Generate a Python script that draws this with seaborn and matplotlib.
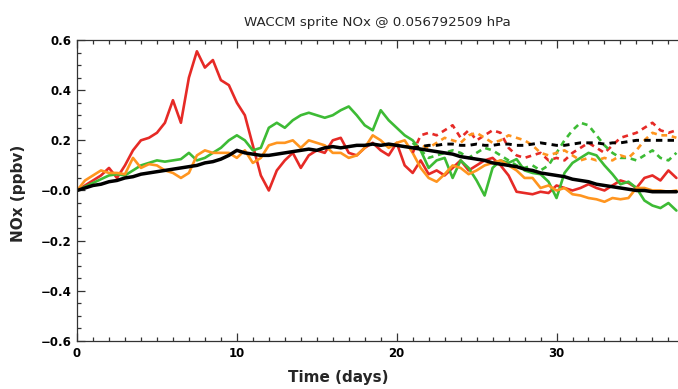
import numpy as np
import matplotlib
matplotlib.use('Agg')
import matplotlib.pyplot as plt
from matplotlib.ticker import MultipleLocator, FixedLocator, FixedFormatter
import seaborn as sns

# time axis (days), half-day steps
days = np.arange(0, 38, 0.5)
days_dash = days[42:]          # dashed runs start at day 21

red = [0.0, 0.02, 0.04, 0.06, 0.09, 0.05, 0.1, 0.16, 0.2, 0.21,
       0.23, 0.27, 0.36, 0.27, 0.45, 0.555, 0.49, 0.52, 0.44, 0.42,
       0.35, 0.30, 0.18, 0.06, 0.0, 0.08, 0.12, 0.15, 0.09, 0.14,
       0.16, 0.15, 0.2, 0.21, 0.15, 0.14, 0.17, 0.19, 0.16, 0.14,
       0.19, 0.1, 0.07, 0.12, 0.065, 0.08, 0.06, 0.09, 0.12, 0.08,
       0.1, 0.12, 0.13, 0.1, 0.06, -0.005, -0.01, -0.015, -0.005, -0.01,
       0.02, 0.01, 0.0, 0.01, 0.025, 0.01, 0.0, 0.02, 0.04, 0.03,
       0.01, 0.05, 0.06, 0.04, 0.08, 0.05]
green = [0.0, 0.015, 0.03, 0.045, 0.06, 0.065, 0.06, 0.08, 0.1, 0.11,
         0.12, 0.115, 0.12, 0.125, 0.15, 0.12, 0.13, 0.15, 0.17, 0.2,
         0.22, 0.2, 0.16, 0.17, 0.25, 0.27, 0.25, 0.28, 0.3, 0.31,
         0.3, 0.29, 0.3, 0.32, 0.335, 0.3, 0.26, 0.24, 0.32, 0.28,
         0.25, 0.22, 0.2, 0.16, 0.09, 0.12, 0.13, 0.05, 0.12, 0.09,
         0.04, -0.02, 0.09, 0.12, 0.11, 0.125, 0.08, 0.07, 0.065, 0.035,
         -0.03, 0.07, 0.11, 0.13, 0.15, 0.14, 0.1, 0.065, 0.025, 0.035,
         0.01, -0.04, -0.06, -0.07, -0.05, -0.08]
orange = [0.0, 0.04, 0.06, 0.08, 0.07, 0.07, 0.065, 0.13, 0.09, 0.105,
          0.1, 0.08, 0.07, 0.05, 0.07, 0.14, 0.16, 0.15, 0.15, 0.15,
          0.13, 0.16, 0.11, 0.13, 0.18, 0.19, 0.19, 0.2, 0.17, 0.2,
          0.19, 0.18, 0.15, 0.15, 0.13, 0.14, 0.17, 0.22, 0.2, 0.17,
          0.19, 0.2, 0.15, 0.09, 0.05, 0.035, 0.065, 0.1, 0.09, 0.065,
          0.08, 0.1, 0.11, 0.12, 0.1, 0.08, 0.05, 0.05, 0.01, 0.02,
          0.0, 0.01, -0.015, -0.02, -0.03, -0.035, -0.045, -0.03, -0.035, -0.03,
          0.01, 0.01, 0.0, 0.0, -0.005, 0.0]
black = [0.0, 0.01, 0.02, 0.025, 0.035, 0.04, 0.05, 0.055, 0.065, 0.07,
         0.075, 0.08, 0.085, 0.09, 0.095, 0.1, 0.11, 0.115, 0.125, 0.14,
         0.16, 0.15, 0.145, 0.14, 0.14, 0.145, 0.15, 0.155, 0.16, 0.165,
         0.16, 0.17, 0.175, 0.17, 0.175, 0.18, 0.18, 0.185, 0.18, 0.185,
         0.18, 0.175, 0.17, 0.165, 0.16, 0.155, 0.15, 0.145, 0.135, 0.13,
         0.125, 0.12, 0.11, 0.105, 0.1, 0.095, 0.085, 0.08, 0.07, 0.065,
         0.06, 0.055, 0.045, 0.04, 0.035, 0.025, 0.02, 0.015, 0.01, 0.005,
         0.0, 0.0, -0.005, -0.005, -0.005, -0.005]

red_dash = [0.15, 0.22, 0.23, 0.22, 0.24, 0.26, 0.21, 0.24, 0.2, 0.22,
            0.24, 0.23, 0.17, 0.14, 0.13, 0.14, 0.15, 0.12, 0.13, 0.12,
            0.15, 0.17, 0.19, 0.17, 0.15, 0.18, 0.21, 0.22, 0.23, 0.25,
            0.27, 0.24, 0.23, 0.24]
green_dash = [0.19, 0.16, 0.13, 0.14, 0.15, 0.16, 0.15, 0.13, 0.15, 0.17,
              0.16, 0.14, 0.12, 0.1, 0.09, 0.1, 0.08, 0.1, 0.15, 0.2,
              0.24, 0.27, 0.26, 0.22, 0.18, 0.15, 0.13, 0.13, 0.12, 0.14,
              0.16, 0.13, 0.12, 0.15]
orange_dash = [0.17, 0.18, 0.17, 0.19, 0.21, 0.2, 0.19, 0.22, 0.23, 0.21,
               0.19, 0.2, 0.22, 0.21, 0.2, 0.18, 0.15, 0.14, 0.15, 0.16,
               0.14, 0.12, 0.13, 0.12, 0.13, 0.12, 0.14, 0.13, 0.16, 0.2,
               0.23, 0.22, 0.22, 0.21]
black_dash = [0.17, 0.175, 0.18, 0.18, 0.185, 0.185, 0.18, 0.18, 0.185, 0.18,
              0.18, 0.185, 0.185, 0.18, 0.18, 0.185, 0.19, 0.185, 0.18, 0.18,
              0.185, 0.19, 0.19, 0.19, 0.185, 0.19, 0.19, 0.195, 0.2, 0.2,
              0.2, 0.2, 0.2, 0.2]

yticks = [-0.6, -0.4, -0.2, 0.0, 0.2, 0.4, 0.6]
ytick_labels = ['\u22120.6', '\u22120.4', '\u22120.2', '\u22120.0', '0.2', '0.4', '0.6']
xticks = [0, 10, 20, 30]

c_red, c_green, c_orange = '#e62a26', '#3dbb35', '#ff951f'

sns.set_style('ticks')
plt.rcParams['font.family'] = ['DejaVu Sans']

fig = plt.figure(figsize=(6.78, 3.89), dpi=100)
ax = fig.add_axes([0.1136, 0.1234, 0.8864, 0.7738])

lw = 1.9
for y, c in ((red, c_red), (green, c_green), (orange, c_orange)):
    sns.lineplot(x=days, y=y, color=c, lw=lw, ax=ax)
for y, c in ((red_dash, c_red), (green_dash, c_green), (orange_dash, c_orange)):
    sns.lineplot(x=days_dash, y=y, color=c, lw=lw, ax=ax)
    ax.lines[-1].set_dashes((2.2, 1.8))
sns.lineplot(x=days_dash, y=black_dash, color='black', lw=2.1, ax=ax)
ax.lines[-1].set_dashes((2.2, 1.8))
sns.lineplot(x=days, y=black, color='black', lw=2.5, ax=ax)

ax.set_xlim(0, 37.6)
ax.set_ylim(-0.6, 0.6)
ax.set_xticks(xticks)
ax.xaxis.set_minor_locator(MultipleLocator(1))
ax.yaxis.set_major_locator(FixedLocator(yticks))
ax.yaxis.set_major_formatter(FixedFormatter(ytick_labels))
ax.yaxis.set_minor_locator(MultipleLocator(0.05))

ax.tick_params(which='both', direction='in', top=True, right=False,
               colors='#333333', labelcolor='black', width=0.9)
ax.tick_params(which='major', length=6, labelsize=8.5, pad=4)
ax.tick_params(which='minor', length=3)
for lab in ax.get_xticklabels() + ax.get_yticklabels():
    lab.set_fontweight('bold')

ax.spines['right'].set_visible(False)
for s in ('left', 'bottom', 'top'):
    ax.spines[s].set_color('#333333')
    ax.spines[s].set_linewidth(0.9)

ax.set_title('WACCM sprite NOx @ 0.056792509 hPa', fontsize=9.6, pad=10)
ax.set_xlabel('Time (days)', fontsize=11, fontweight='bold')
ax.set_ylabel('NOx (ppbv)', fontsize=11, fontweight='bold')
ax.xaxis.set_label_coords(0.435, -0.095)
ax.yaxis.set_label_coords(-0.085, 0.49)

fig.savefig('out.png', dpi=100)
